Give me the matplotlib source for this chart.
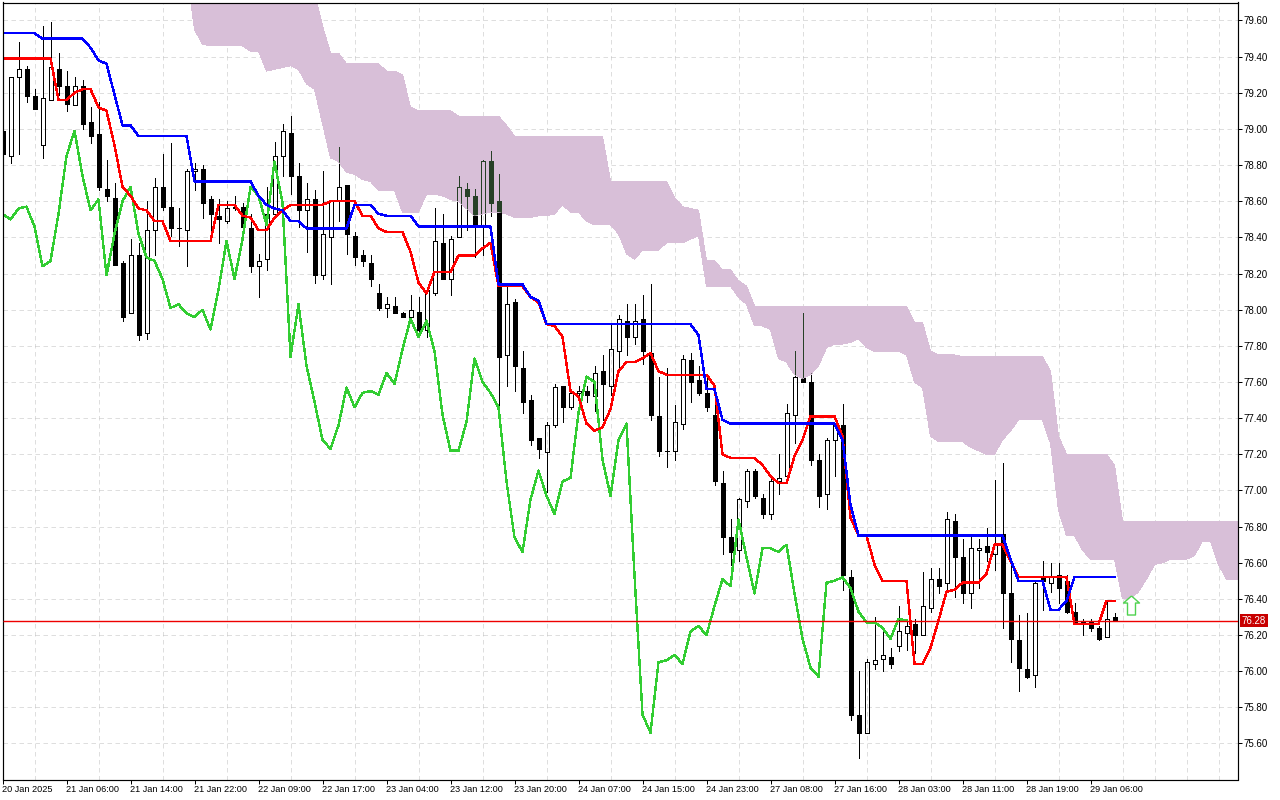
import numpy as np
import matplotlib
matplotlib.use('Agg')
import matplotlib.pyplot as plt
from matplotlib.patches import Polygon
from matplotlib.path import Path

plt.rcParams['font.family'] = ['Liberation Sans', 'DejaVu Sans']

# candles, 20 Jan - 29 Jan 2025
opens = [78.99,78.85,79.29,79.33,79.18,78.91,79.16,79.33,79.24,79.13,79.24,79.04,78.97,78.67,78.62,78.26,77.98,78.30,77.87,78.44,
         78.68,78.57,78.45,78.44,78.77,78.78,78.61,78.52,78.49,78.56,78.57,78.45,78.24,78.28,78.53,78.85,78.98,78.74,78.55,78.61,
         78.19,78.40,78.60,78.69,78.41,78.30,78.26,78.09,78.01,78.02,77.98,77.96,77.99,77.89,78.09,78.37,78.17,78.40,78.67,78.63,
         78.47,78.82,78.60,77.75,78.04,77.68,77.50,77.29,77.21,77.36,77.58,77.46,77.54,77.55,77.52,77.66,77.58,77.77,77.94,77.85,
         77.95,77.76,77.41,77.22,77.22,77.37,77.72,77.61,77.54,77.42,77.04,76.74,76.67,76.94,77.11,76.96,76.87,77.05,77.08,77.42,
         77.62,77.60,77.17,76.98,77.28,77.36,76.52,75.76,75.66,76.04,76.07,76.08,76.14,76.21,76.26,76.20,76.35,76.51,76.49,76.83,
         76.63,76.43,76.67,76.69,76.65,76.76,76.43,76.17,76.01,75.98,76.52,76.49,76.53,76.50,76.33,76.27,76.27,76.24,76.19,76.30]
highs = [79.03,79.29,79.48,79.35,79.22,79.57,79.59,79.42,79.32,79.29,79.27,79.12,79.15,78.83,78.70,78.27,78.39,78.37,78.60,78.73,
         78.86,78.92,78.56,78.78,78.81,78.80,78.63,78.61,78.60,78.63,78.59,78.53,78.31,78.68,78.93,79.03,79.07,78.81,78.70,78.66,
         78.77,78.60,78.90,78.69,78.43,78.33,78.30,78.14,78.07,78.07,77.99,78.08,78.07,78.11,78.56,78.53,78.41,78.74,78.70,78.67,
         78.83,78.88,78.75,78.13,78.06,77.77,77.53,77.29,77.38,77.59,77.58,77.55,77.58,77.58,77.69,77.75,77.92,77.97,78.03,78.03,
         78.08,78.14,77.63,77.68,77.47,77.75,77.76,77.69,77.64,77.53,77.11,76.84,76.96,77.12,77.12,76.98,77.08,77.20,77.48,77.77,
         77.98,77.65,77.20,77.29,77.37,77.48,76.56,76.00,76.07,76.30,76.23,76.13,76.36,76.29,76.29,76.55,76.57,76.57,76.88,76.87,
         76.73,76.74,76.73,76.79,77.06,77.15,76.60,76.31,76.32,76.50,76.61,76.60,76.60,76.53,76.38,76.29,76.29,76.25,76.39,76.32]
lows = [78.82,78.81,78.86,79.15,79.11,78.84,79.16,79.19,79.10,79.13,79.00,78.92,78.66,78.60,78.25,77.94,77.98,77.83,77.84,78.30,
        78.55,78.41,78.35,78.24,78.66,78.51,78.43,78.37,78.48,78.55,78.43,78.21,78.07,78.22,78.53,78.74,78.64,78.46,78.32,78.15,
        78.17,78.14,78.49,78.31,78.25,78.24,78.13,78.00,77.96,77.98,77.96,77.96,77.87,77.85,78.08,78.17,78.08,78.40,78.44,78.29,
        78.30,78.52,77.38,77.58,77.55,77.43,77.25,77.18,76.99,77.35,77.38,77.45,77.52,77.49,77.44,77.39,77.53,77.68,77.75,77.81,
        77.70,77.39,77.19,77.13,77.17,77.34,77.49,77.53,77.44,77.03,76.65,76.59,76.61,76.91,76.96,76.85,76.84,76.98,77.07,77.26,
        77.60,77.14,76.91,76.90,77.08,76.45,75.73,75.52,75.66,76.01,76.00,76.02,76.11,76.12,76.10,76.20,76.33,76.43,76.44,76.41,
        76.38,76.35,76.46,76.61,76.56,76.24,76.05,75.89,75.96,75.91,76.34,76.44,76.38,76.32,76.27,76.20,76.22,76.17,76.19,76.28]
closes = [78.86,79.29,79.33,79.18,79.11,79.17,79.34,79.24,79.14,79.24,79.03,78.96,78.68,78.63,78.25,77.96,78.30,77.86,78.44,78.68,
          78.57,78.45,78.45,78.77,78.78,78.59,78.53,78.50,78.56,78.57,78.46,78.24,78.27,78.53,78.85,78.99,78.74,78.55,78.61,78.19,
          78.42,78.60,78.68,78.42,78.29,78.27,78.17,78.01,78.03,77.98,77.96,78.00,77.89,78.11,78.38,78.17,78.39,78.68,78.63,78.47,
          78.82,78.59,77.74,78.03,77.69,77.49,77.28,77.23,77.36,77.57,77.46,77.54,77.55,77.53,77.65,77.59,77.78,77.95,77.85,77.94,
          77.77,77.42,77.22,77.22,77.38,77.73,77.60,77.54,77.46,77.05,76.74,76.66,76.95,77.11,76.97,76.87,77.05,77.07,77.43,77.63,
          77.60,77.17,76.97,77.28,77.37,76.53,75.76,75.66,76.05,76.06,76.09,76.04,76.22,76.25,76.20,76.36,76.51,76.47,76.84,76.63,
          76.43,76.68,76.68,76.66,76.70,76.43,76.18,76.02,75.97,76.49,76.50,76.52,76.46,76.33,76.27,76.27,76.24,76.18,76.29,76.28]

# ichimoku lines
tenkan = [79.39,79.39,79.39,79.39,79.39,79.39,79.39,79.16,79.16,79.20,79.22,79.22,79.12,79.10,78.91,78.68,78.63,78.56,78.55,78.49,
          78.49,78.38,78.38,78.38,78.38,78.38,78.38,78.58,78.58,78.58,78.52,78.51,78.44,78.44,78.51,78.55,78.58,78.58,78.58,78.58,
          78.58,78.60,78.60,78.60,78.60,78.52,78.52,78.45,78.43,78.43,78.43,78.32,78.15,78.09,78.21,78.21,78.21,78.30,78.30,78.30,
          78.34,78.37,78.13,78.13,78.13,78.13,78.07,78.04,77.92,77.91,77.85,77.55,77.52,77.37,77.33,77.35,77.45,77.66,77.71,77.71,
          77.73,77.76,77.66,77.64,77.64,77.64,77.64,77.64,77.64,77.58,77.20,77.18,77.18,77.18,77.18,77.14,77.08,77.04,77.04,77.19,
          77.28,77.41,77.41,77.41,77.41,77.30,76.85,76.75,76.75,76.59,76.50,76.50,76.50,76.50,76.04,76.04,76.13,76.28,76.44,76.45,
          76.49,76.49,76.49,76.54,76.70,76.70,76.61,76.52,76.52,76.52,76.52,76.52,76.52,76.52,76.26,76.26,76.26,76.26,76.39,76.39]
kijun = [79.53,79.53,79.53,79.53,79.53,79.50,79.50,79.50,79.50,79.50,79.50,79.45,79.38,79.36,79.19,79.02,79.02,78.96,78.96,78.96,
         78.96,78.96,78.96,78.96,78.71,78.71,78.71,78.71,78.71,78.71,78.71,78.71,78.63,78.58,78.56,78.55,78.49,78.49,78.45,78.45,
         78.45,78.45,78.45,78.45,78.58,78.58,78.58,78.53,78.52,78.52,78.52,78.52,78.46,78.46,78.46,78.46,78.46,78.46,78.46,78.46,
         78.46,78.46,78.14,78.14,78.14,78.14,78.07,78.05,77.92,77.92,77.92,77.92,77.92,77.92,77.92,77.92,77.92,77.92,77.92,77.92,
         77.92,77.92,77.92,77.92,77.92,77.92,77.92,77.86,77.56,77.56,77.39,77.37,77.37,77.37,77.37,77.37,77.37,77.37,77.37,77.37,
         77.37,77.37,77.37,77.37,77.37,77.28,76.92,76.75,76.75,76.75,76.75,76.75,76.75,76.75,76.75,76.75,76.75,76.75,76.75,76.75,
         76.75,76.75,76.75,76.75,76.75,76.75,76.62,76.50,76.50,76.50,76.50,76.34,76.34,76.39,76.52,76.52,76.52,76.52,76.52,76.52]
chikou = [78.53,78.50,78.56,78.57,78.46,78.24,78.27,78.53,78.85,78.99,78.74,78.55,78.61,78.19,
          78.42,78.60,78.68,78.42,78.29,78.27,78.17,78.01,78.03,77.98,77.96,78.00,77.89,78.11,78.38,78.17,78.39,78.68,78.63,78.47,
          78.82,78.59,77.74,78.03,77.69,77.49,77.28,77.23,77.36,77.57,77.46,77.54,77.55,77.53,77.65,77.59,77.78,77.95,77.85,77.94,
          77.77,77.42,77.22,77.22,77.38,77.73,77.60,77.54,77.46,77.05,76.74,76.66,76.95,77.11,76.97,76.87,77.05,77.07,77.43,77.63,
          77.60,77.17,76.97,77.28,77.37,76.53,75.76,75.66,76.05,76.06,76.09,76.04,76.22,76.25,76.20,
          76.36,76.51,76.47,76.84,76.63,76.43,76.68,76.68,76.66,76.70,76.43,76.18,76.02,75.97,76.49,76.50,76.52,76.46,76.33,76.27,76.27,76.24,76.18,76.29,76.28]

# kumo, starts at bar 23 and runs on past the last candle
cloud_start = 23
cloud_top = [79.90,79.90,79.90,79.90,79.90,79.90,79.90,79.90,79.90,79.90,79.90,79.90,79.90,79.90,79.90,79.90,
             79.75,79.57,79.42,79.42,79.36,79.36,79.36,79.36,79.36,79.32,79.32,79.30,79.12,79.10,79.10,79.10,79.10,79.10,
             79.07,79.07,79.07,79.07,79.07,79.07,79.02,78.96,78.96,78.96,78.96,78.96,78.96,78.96,78.96,78.96,78.96,78.96,78.96,
             78.71,78.71,78.71,78.71,78.71,78.71,78.71,78.71,78.62,78.57,78.56,78.55,78.27,78.27,78.22,78.22,78.16,78.13,
             78.02,78.02,78.02,78.02,78.02,78.02,78.02,78.02,78.02,78.02,78.02,78.02,78.02,78.02,78.02,78.02,78.02,78.02,78.02,78.02,
             77.93,77.93,77.77,77.75,77.75,77.75,77.74,77.74,77.74,77.74,77.74,77.74,77.74,77.74,77.74,77.74,77.74,
             77.66,77.30,77.20,77.20,77.20,77.20,77.20,77.20,77.14,
             76.83,76.83,76.83,76.83,76.83,76.83,76.83,76.83,76.83,76.83,76.83,76.83,76.83,76.83,76.83,76.83]
cloud_bottom = [79.89,79.55,79.47,79.46,79.46,79.46,79.46,79.46,79.43,79.43,79.32,79.33,79.34,79.35,79.33,79.25,79.22,79.03,
                78.84,78.82,78.76,78.75,78.72,78.71,78.66,78.66,78.66,78.54,78.54,78.54,78.64,78.64,78.63,78.61,78.60,78.56,78.52,78.53,
                78.54,78.54,78.53,78.51,78.51,78.51,78.52,78.52,78.53,78.58,78.54,78.54,78.49,78.47,78.47,78.47,78.42,78.31,78.28,
                78.33,78.33,78.33,78.37,78.37,78.37,78.39,78.41,78.13,78.13,78.13,78.13,78.07,78.03,
                77.91,77.91,77.89,77.73,77.71,77.64,77.62,77.64,77.69,77.79,77.81,77.81,77.82,77.84,77.79,77.77,77.77,77.77,77.77,77.75,
                77.60,77.57,77.30,77.27,77.27,77.27,77.27,77.24,77.22,77.20,77.20,77.28,77.33,77.39,77.39,77.39,77.39,77.26,
                76.89,76.75,76.75,76.67,76.62,76.62,76.62,76.62,76.40,76.40,76.44,76.51,76.59,76.60,76.62,76.62,76.62,76.64,76.72,76.72,
                76.59,76.51,76.51,76.51]

last_price = 76.28
arrow_bar = 141
arrow_price = 76.365
tick_bars = list(range(0, 137, 8))
tick_labels = ['20 Jan 2025', '21 Jan 06:00', '21 Jan 14:00', '21 Jan 22:00', '22 Jan 09:00', '22 Jan 17:00',
               '23 Jan 04:00', '23 Jan 12:00', '23 Jan 20:00', '24 Jan 07:00', '24 Jan 15:00', '24 Jan 23:00',
               '27 Jan 08:00', '27 Jan 16:00', '28 Jan 03:00', '28 Jan 11:00', '28 Jan 19:00', '29 Jan 06:00']
price_ticks = [75.6, 75.8, 76.0, 76.2, 76.4, 76.6, 76.8, 77.0, 77.2, 77.4, 77.6, 77.8,
               78.0, 78.2, 78.4, 78.6, 78.8, 79.0, 79.2, 79.4, 79.6]

opens = np.array(opens)
closes = np.array(closes)
highs = np.array(highs)
lows = np.array(lows)
bars = np.arange(len(opens))
body_top = np.maximum(opens, closes)
body_bottom = np.minimum(opens, closes)
is_down = closes < opens
px = 0.72  # one pixel at dpi 100, in points
line_w = 1.0

fig = plt.figure(figsize=(12.8, 8), dpi=100, facecolor='white')
ax = fig.add_axes([2.5/1280, 1-779.5/800, 1235/1280, 777/800])
ax.set_xlim(0, 1235/8)
ax.set_ylim(79.6-759/180.75, 79.6+18/180.75)


def draw_candles(wick_color, up_face, z, clip=None):
    a = ax.vlines(bars, body_top, highs, color=wick_color, lw=px, antialiased=False, zorder=z)
    b = ax.vlines(bars, lows, body_bottom, color=wick_color, lw=px, antialiased=False, zorder=z)
    down = ax.bar(bars[is_down], (body_top-body_bottom)[is_down], bottom=body_bottom[is_down], width=0.5,
                  facecolor=wick_color, edgecolor=wick_color, lw=px, antialiased=False, zorder=z)
    up = ax.bar(bars[~is_down], (body_top-body_bottom)[~is_down], bottom=body_bottom[~is_down], width=0.5,
                facecolor=up_face, edgecolor=wick_color, lw=px, antialiased=False, zorder=z)
    if clip is not None:
        a.set_clip_path(clip)
        b.set_clip_path(clip)
        for r in list(down) + list(up):
            r.set_clip_path(clip)


draw_candles('black', 'white', 2)

# cloud on top of the candles, the platform draws it xor so what lies under it goes dark green
cloud_x = np.arange(cloud_start, cloud_start+len(cloud_top))
verts = list(zip(cloud_x, cloud_top)) + list(zip(cloud_x[::-1], cloud_bottom[::-1]))
cloud = Polygon(verts, closed=True, facecolor='#d8bfd8', edgecolor='none', antialiased=False, zorder=3)
ax.add_patch(cloud)

ax.set_xticks(np.arange(0, 155, 4), minor=True)
ax.set_yticks(price_ticks)
ax.grid(True, which='minor', axis='x', color='black', alpha=0.13, lw=px, ls=(0, (4.5, 3.5)), zorder=4)
ax.grid(True, which='major', axis='y', color='black', alpha=0.13, lw=px, ls=(0, (4.5, 3.5)), zorder=4)
ax.set_axisbelow(False)

draw_candles('#274027', 'none', 5, clip=cloud)

ax.plot(bars[:len(chikou)], chikou, color='#32cd32', lw=line_w, antialiased=False, zorder=6)
ax.plot(bars, tenkan, color='#ff0000', lw=line_w, antialiased=False, zorder=7)
ax.plot(bars, kijun, color='#0000ff', lw=line_w, antialiased=False, zorder=8)
ax.hlines(last_price, 0, 1235/8, color='#ee0000', lw=1.0, zorder=12)

arrow = Path([(0, 1), (0.84, 0.26), (0.42, 0.26), (0.42, -1), (-0.42, -1), (-0.42, 0.26), (-0.84, 0.26), (0, 1)])
ax.plot([arrow_bar], [arrow_price], marker=arrow, markersize=13.7, mfc='white', mec='#4fd24f', mew=1.0, zorder=9)

ax.set_xticks(tick_bars)
ax.set_xticklabels(tick_labels, ha='left', fontsize=6.6)
ax.set_yticklabels(['%.2f' % p for p in price_ticks], fontsize=7)
ax.yaxis.tick_right()
ax.tick_params(axis='x', which='major', length=3, width=px, pad=0.8, color='black')
ax.tick_params(axis='x', which='minor', length=0)
ax.tick_params(axis='y', length=3, width=px, pad=1.5, color='black')
for s in ax.spines.values():
    s.set_linewidth(0.85)
    s.set_color('black')
    s.set_zorder(10)

ax.annotate('%.2f' % last_price, xy=(1, last_price), xycoords=('axes fraction', 'data'), xytext=(3.2, 0),
            textcoords='offset points', va='center', ha='left', fontsize=7, color='white',
            bbox=dict(boxstyle='square,pad=0.18', facecolor='#c80000', edgecolor='none'), annotation_clip=False)

fig.savefig('out.png', dpi=100)
